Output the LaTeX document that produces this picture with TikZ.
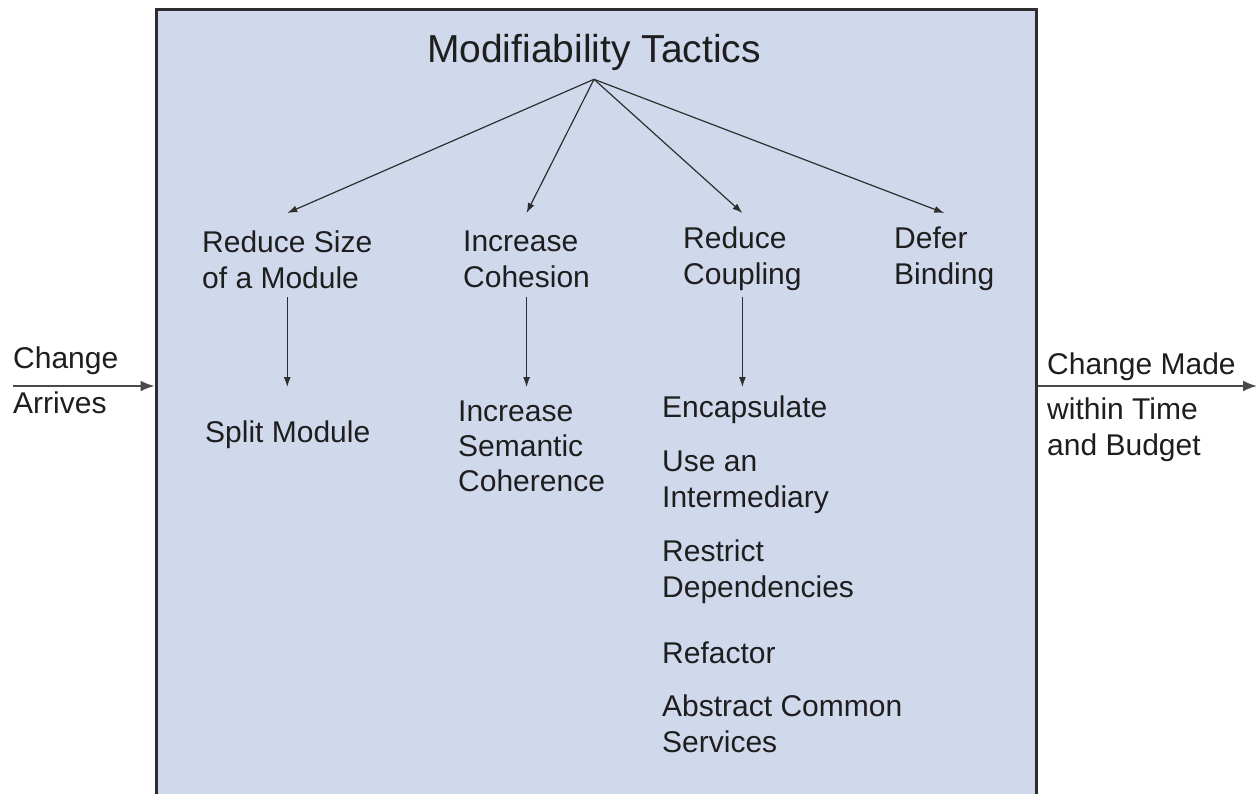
\documentclass[tikz,border=0pt]{standalone}
\usepackage{fontspec}
\setmainfont{Liberation Sans}
\usetikzlibrary{arrows.meta}
\definecolor{boxfill}{HTML}{D0D9EC}
\definecolor{ink}{HTML}{1E1E1E}
\definecolor{linec}{HTML}{2E2E2E}
\definecolor{flowc}{HTML}{4A4A4A}
\tikzset{
  lbl/.style={inner sep=0pt, anchor=base west, align=left, text=ink,
    font=\fontsize{30}{36}\selectfont},
  treearrow/.style={draw=linec, line width=1.2pt, -{Latex[length=10pt,width=7pt]}},
  flowarrow/.style={draw=flowc, line width=2pt, -{Latex[length=14pt,width=11pt]}},
  bigbox/.style={draw=linec, line width=3pt, fill=boxfill, inner sep=0pt,
    minimum width=880pt, minimum height=801pt}
}
\begin{document}
\begin{tikzpicture}[x=1pt,y=-1pt]
\clip (0,0) rectangle (1258,793);
\fill[white] (0,0) rectangle (1258,793);
\node[bigbox] (box) at (596,409.5) {};
\node[inner sep=0pt, anchor=base, text=ink, font=\fontsize{39}{47}\selectfont] (title) at (594,62) {Modifiability Tactics};
% level 1 (anchor = baseline of last line)
\node[lbl] (rs) at (202,288) {Reduce Size\\of a Module};
\node[lbl] (ic) at (463,287) {Increase\\Cohesion};
\node[lbl] (rc) at (683,284) {Reduce\\Coupling};
\node[lbl] (db) at (894,284) {Defer\\Binding};
% level 2
\node[lbl] (sm) at (205,442) {Split Module};
\node[lbl, font=\fontsize{30}{35}\selectfont] (isc) at (458,491) {Increase\\Semantic\\Coherence};
\node[lbl] (enc) at (662,417) {Encapsulate};
\node[lbl] (uai) at (662,507) {Use an\\Intermediary};
\node[lbl] (rd) at (662,597) {Restrict\\Dependencies};
\node[lbl] (ref) at (662,663) {Refactor};
\node[lbl] (acs) at (662,752) {Abstract Common\\Services};
% flow labels
\node[lbl] (inl) at (13,413) {Change\\[9pt]Arrives};
\node[lbl] (outl) at (1047,455) {Change Made\\[9pt]within Time\\and Budget};
% helper coordinates
\coordinate (toptip) at (0,213);
\coordinate (lowtip) at (0,387);
\coordinate (flow) at (0,386);
\coordinate (inStart) at (13,386);
\coordinate (outEnd) at (1257,386);
% tree arrows
\draw[treearrow] ([yshift=-9pt]title.south) -- (rs.north |- toptip);
\draw[treearrow] ([yshift=-9pt]title.south) -- (ic.north |- toptip);
\draw[treearrow] ([yshift=-9pt]title.south) -- (rc.north |- toptip);
\draw[treearrow] ([yshift=-9pt]title.south) -- (db.north |- toptip);
\draw[treearrow] ([yshift=-9pt]rs.south) -- (rs.south |- lowtip);
\draw[treearrow] ([yshift=-10pt]ic.south) -- (ic.south |- lowtip);
\draw[treearrow] ([yshift=-7pt]rc.south) -- (rc.south |- lowtip);
% flow arrows
\draw[flowarrow] (inStart) -- (box.west |- flow);
\draw[flowarrow] (box.east |- flow) -- (outEnd);
\end{tikzpicture}
\end{document}
